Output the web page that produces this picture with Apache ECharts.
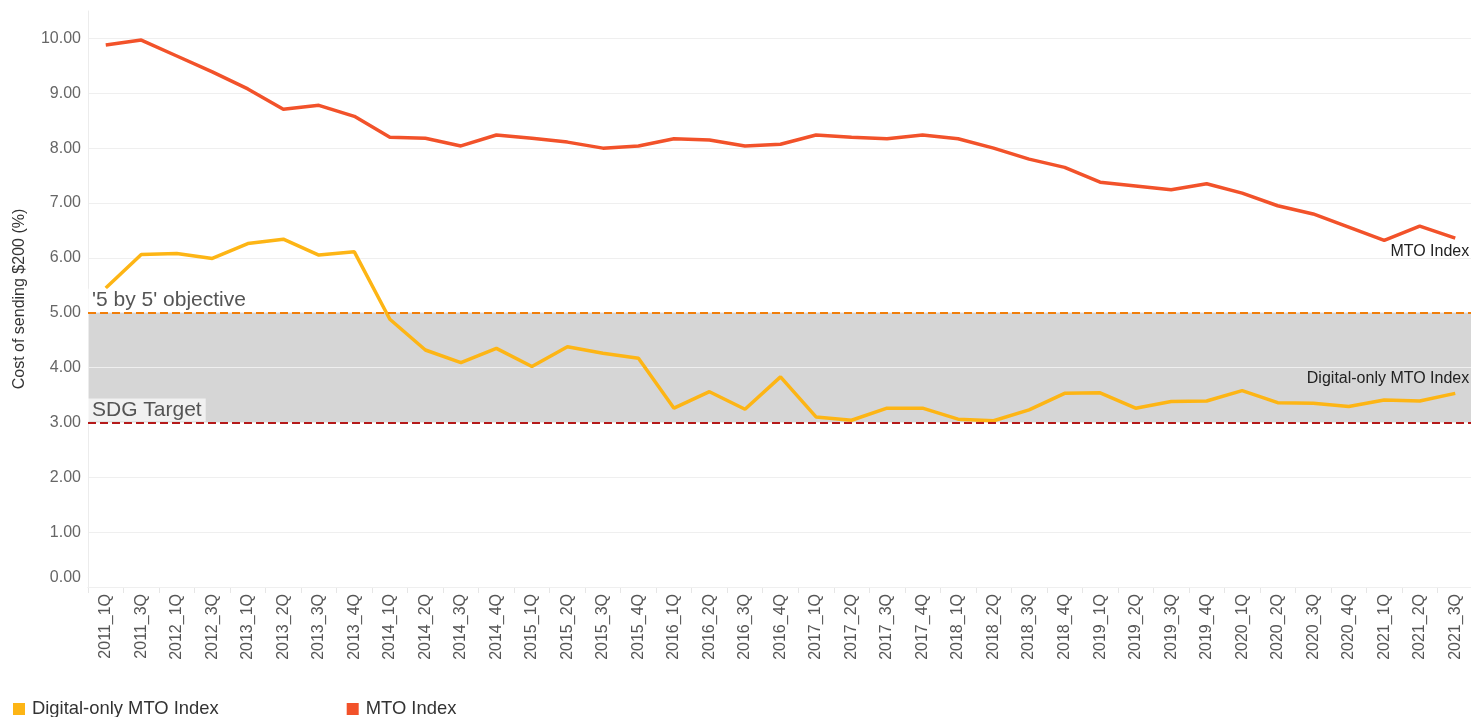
<!DOCTYPE html>
<html>
<head>
<meta charset="utf-8">
<script src="https://cdn.jsdelivr.net/npm/echarts@6/dist/echarts.min.js"></script>
<style>
html,body{margin:0;padding:0;background:#fff;}
#chart{width:1471px;height:717px;}
</style>
</head>
<body>
<div id="chart"></div>
<script>
var categories = ['2011_1Q','2011_3Q','2012_1Q','2012_3Q','2013_1Q','2013_2Q','2013_3Q','2013_4Q',
  '2014_1Q','2014_2Q','2014_3Q','2014_4Q','2015_1Q','2015_2Q','2015_3Q','2015_4Q',
  '2016_1Q','2016_2Q','2016_3Q','2016_4Q','2017_1Q','2017_2Q','2017_3Q','2017_4Q',
  '2018_1Q','2018_2Q','2018_3Q','2018_4Q','2019_1Q','2019_2Q','2019_3Q','2019_4Q',
  '2020_1Q','2020_2Q','2020_3Q','2020_4Q','2021_1Q','2021_2Q','2021_3Q'];

var digitalOnly = [5.45,6.06,6.08,5.99,6.26,6.34,6.05,6.11,
  4.88,4.32,4.09,4.35,4.02,4.38,4.26,4.17,
  3.26,3.56,3.24,3.83,3.10,3.04,3.26,3.26,
  3.06,3.03,3.23,3.53,3.54,3.26,3.38,3.39,
  3.58,3.36,3.35,3.29,3.41,3.39,3.53];

var mtoIndex = [9.88,9.97,9.68,9.39,9.08,8.71,8.78,8.58,
  8.20,8.18,8.04,8.24,8.18,8.11,8.00,8.04,
  8.17,8.15,8.04,8.07,8.24,8.20,8.17,8.24,
  8.17,8.00,7.80,7.65,7.38,7.31,7.24,7.35,
  7.18,6.95,6.80,6.56,6.32,6.58,6.36];

var objective5by5 = 5;
var sdgTarget = 3;
var seriesNames = ['Digital-only MTO Index', 'MTO Index'];
var colors = ['#FDB515', '#F2522A'];

var FONT = "'Liberation Sans', Arial, sans-serif";
var lastCat = categories[categories.length - 1];

var splitColors = [];
for (var i = 0; i <= 10; i++) splitColors.push('#efefef');
splitColors.push('rgba(0,0,0,0)');

var chart = echarts.init(document.getElementById('chart'));
chart.setOption({
  animation: false,
  textStyle: { fontFamily: FONT },
  color: colors,
  grid: { left: 88, right: -2, top: 11, bottom: 130, outerBoundsMode: 'none', containLabel: false },
  legend: {
    left: 8, top: 695,
    icon: 'rect', itemWidth: 12, itemHeight: 12, itemGap: 128,
    textStyle: { fontFamily: FONT, fontSize: 18.4, color: '#333', padding: [0,0,0,2] },
    data: seriesNames
  },
  xAxis: {
    type: 'category',
    data: categories,
    boundaryGap: true,
    axisLine: { show: true, lineStyle: { color: '#e6e6e6' } },
    axisTick: { show: true, length: 6, lineStyle: { color: '#e6e6e6' } },
    axisLabel: { rotate: 90, fontSize: 16, color: '#555', margin: 7, fontFamily: FONT, interval: 0 },
    splitLine: { show: false }
  },
  yAxis: {
    type: 'value',
    min: 0, max: 10.5, interval: 1,
    z: 1.5,
    name: 'Cost of sending $200 (%)',
    nameLocation: 'middle',
    nameGap: 60,
    nameTextStyle: { fontSize: 16, color: '#333', fontFamily: FONT },
    axisLine: { show: true, lineStyle: { color: '#ececec' } },
    axisTick: { show: false },
    axisLabel: {
      fontSize: 16, color: '#666', margin: 7, fontFamily: FONT,
      showMaxLabel: false,
      formatter: function (v) {
        if (v > 10) return '';
        if (v === 0) return '{z|' + v.toFixed(2) + '}';
        return v.toFixed(2);
      },
      rich: { z: { fontSize: 16, color: '#666', fontFamily: FONT, padding: [0, 0, 18, 0] } }
    },
    splitLine: { show: true, lineStyle: { color: splitColors, width: 1 } }
  },
  series: [
    {
      name: seriesNames[0],
      type: 'line',
      data: digitalOnly,
      symbol: 'none',
      z: 2,
      lineStyle: { width: 3.5, color: colors[0] },
      itemStyle: { color: colors[0] },
      markArea: {
        silent: true,
        z: 1,
        itemStyle: { color: '#d6d6d6' },
        data: [[{ yAxis: sdgTarget }, { yAxis: objective5by5 }]]
      },
      markLine: {
        silent: true,
        symbol: 'none',
        z: 5,
        data: [
          {
            yAxis: objective5by5,
            lineStyle: { color: '#F07E0A', type: [8, 4], width: 2 },
            label: {
              show: true, position: 'insideStartTop', formatter: "'5 by 5' objective",
              fontSize: 21, color: '#555', fontFamily: FONT, distance: [0, 1],
              backgroundColor: 'rgba(255,255,255,0.7)', padding: [1, 4, 1, 4]
            }
          },
          {
            yAxis: sdgTarget,
            lineStyle: { color: '#B51A1A', type: [8, 4], width: 2 },
            label: {
              show: true, position: 'insideStartTop', formatter: 'SDG Target',
              fontSize: 21, color: '#555', fontFamily: FONT, distance: [0, 1],
              backgroundColor: 'rgba(255,255,255,0.65)', padding: [1, 4, 1, 4]
            }
          }
        ]
      },
      markPoint: {
        silent: true,
        symbol: 'circle', symbolSize: 0,
        data: [{ coord: [lastCat, digitalOnly[digitalOnly.length - 1]] }],
        label: {
          show: true, position: 'inside', formatter: seriesNames[0],
          align: 'right', verticalAlign: 'middle', offset: [14, -15],
          fontSize: 16, color: '#222', fontFamily: FONT
        }
      }
    },
    {
      name: seriesNames[1],
      type: 'line',
      data: mtoIndex,
      symbol: 'none',
      z: 3,
      lineStyle: { width: 3.5, color: colors[1] },
      itemStyle: { color: colors[1] },
      markPoint: {
        silent: true,
        symbol: 'circle', symbolSize: 0,
        data: [{ coord: [lastCat, mtoIndex[mtoIndex.length - 1]] }],
        label: {
          show: true, position: 'inside', formatter: seriesNames[1],
          align: 'right', verticalAlign: 'middle', offset: [14, 13],
          fontSize: 16, color: '#222', fontFamily: FONT
        }
      }
    }
  ]
});
</script>
</body>
</html>
